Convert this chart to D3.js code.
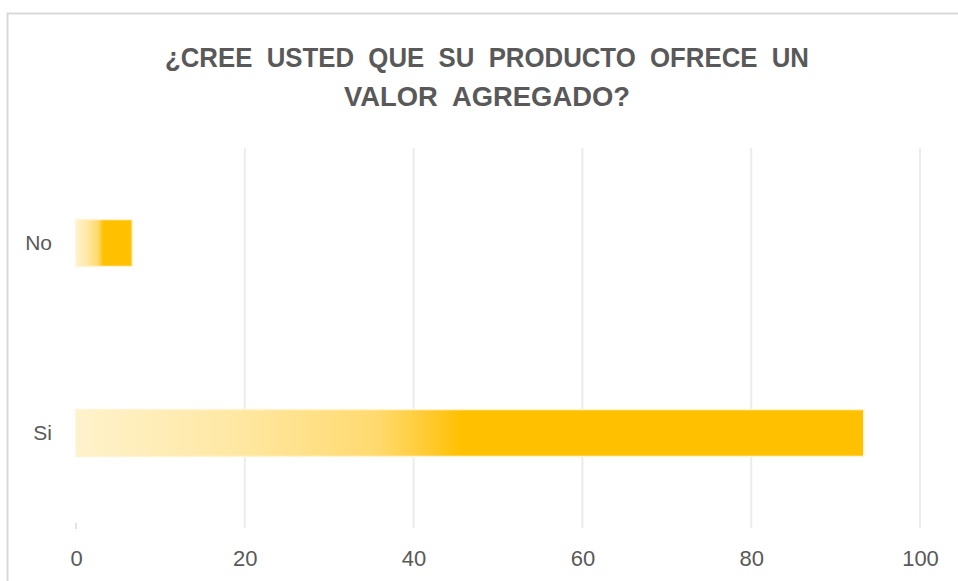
<!DOCTYPE html>
<html lang="es">
<head>
    <meta charset="UTF-8">
    <title>¿Cree usted que su producto ofrece un valor agregado?</title>
    <script src="https://d3js.org/d3.v7.min.js"></script>
    <style>
        body {
            margin: 0;
            padding: 0;
            background-color: white;
            overflow: hidden;
        }
        svg text {
            font-family: 'Liberation Sans', 'Open Sans', sans-serif;
            fill: #595959;
        }
    </style>
</head>
<body>
    <div id="chart"></div>

    <script>
        // chart data
        const categories = ["No", "Si"];
        const values = [6.67, 93.33];
        const xTicks = [0, 20, 40, 60, 80, 100];
        const titleLines = ["¿CREE  USTED  QUE  SU  PRODUCTO  OFRECE  UN", "VALOR  AGREGADO?"];

        const width = 958, height = 581;
        const margin = {top: 148, right: 38, bottom: 53, left: 76};

        const svg = d3.select("#chart").append("svg")
            .attr("width", width)
            .attr("height", height);

        // outer chart border (only top and left visible in the frame)
        svg.append("rect")
            .attr("x", 7.5)
            .attr("y", 13.5)
            .attr("width", width + 10)
            .attr("height", height + 10)
            .attr("fill", "white")
            .attr("stroke", "#d9d9d9")
            .attr("stroke-width", 2);

        const x = d3.scaleLinear()
            .domain([0, 100])
            .range([margin.left, width - margin.right]);

        const y = d3.scaleBand()
            .domain(categories)
            .range([margin.top, height - margin.bottom])
            .paddingInner(0.753)
            .paddingOuter(0.3765);

        // gradient like the excel fill
        const grad = svg.append("defs").append("linearGradient")
            .attr("id", "barFill")
            .attr("x1", "0%").attr("x2", "100%")
            .attr("y1", "0%").attr("y2", "0%");
        grad.append("stop").attr("offset", "0%").attr("stop-color", "#fff2cc");
        grad.append("stop").attr("offset", "20%").attr("stop-color", "#ffe8a4");
        grad.append("stop").attr("offset", "38%").attr("stop-color", "#ffda70");
        grad.append("stop").attr("offset", "44%").attr("stop-color", "#ffcc38");
        grad.append("stop").attr("offset", "49%").attr("stop-color", "#ffc000");
        grad.append("stop").attr("offset", "100%").attr("stop-color", "#ffc000");

        // gridlines
        svg.append("g")
            .selectAll("line")
            .data(xTicks.filter(d => d > 0))
            .join("line")
            .attr("x1", d => x(d))
            .attr("x2", d => x(d))
            .attr("y1", margin.top)
            .attr("y2", height - margin.bottom)
            .attr("stroke", "#ececec")
            .attr("stroke-width", 2);

        // small tick at zero
        svg.append("line")
            .attr("x1", x(0)).attr("x2", x(0))
            .attr("y1", height - margin.bottom - 5)
            .attr("y2", height - margin.bottom + 1)
            .attr("stroke", "#e4e4e4")
            .attr("stroke-width", 2);

        // bars
        svg.append("g")
            .selectAll("rect")
            .data(categories)
            .join("rect")
            .attr("x", x(0))
            .attr("y", d => y(d))
            .attr("width", (d, i) => x(values[i]) - x(0))
            .attr("height", y.bandwidth())
            .attr("fill", "url(#barFill)")
            .attr("stroke", "#fff3d0")
            .attr("stroke-width", 1.5);

        // x axis labels
        const xAxis = d3.axisBottom(x)
            .tickValues(xTicks)
            .tickSize(0)
            .tickPadding(22);
        const gx = svg.append("g")
            .attr("transform", `translate(0,${height - margin.bottom})`)
            .call(xAxis);
        gx.select(".domain").remove();
        gx.selectAll("text")
            .attr("font-size", 22)
            .attr("fill", "#595959")
            .style("font-family", "'Liberation Sans', sans-serif");

        // category labels
        const yAxis = d3.axisLeft(y).tickSize(0).tickPadding(24);
        const gy = svg.append("g")
            .attr("transform", `translate(${margin.left},0)`)
            .call(yAxis);
        gy.select(".domain").remove();
        gy.selectAll("text")
            .attr("font-size", 21)
            .attr("fill", "#595959")
            .style("font-family", "'Liberation Sans', sans-serif");

        // title
        const titleWidths = [644, 286];
        svg.append("g")
            .selectAll("text")
            .data(titleLines)
            .join("text")
            .attr("x", 487)
            .attr("y", (d, i) => 67 + i * 39)
            .attr("text-anchor", "middle")
            .attr("font-size", 28)
            .attr("font-weight", "bold")
            .attr("textLength", (d, i) => titleWidths[i])
            .attr("lengthAdjust", "spacingAndGlyphs")
            .style("white-space", "pre")
            .text(d => d);
    </script>
</body>
</html>
